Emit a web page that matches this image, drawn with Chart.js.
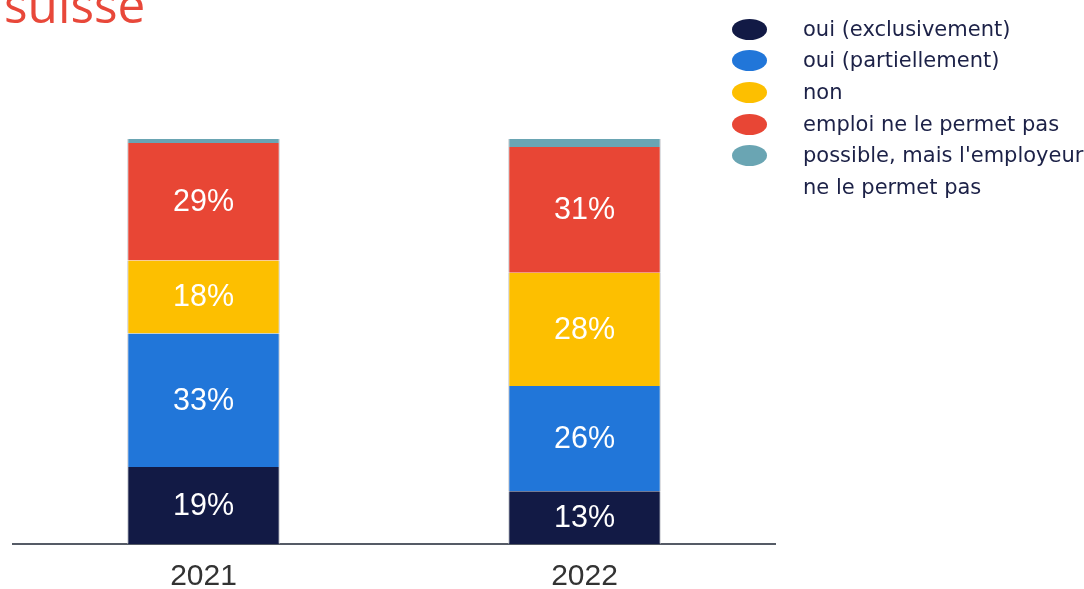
<!DOCTYPE html>
<html lang="fr">
<head>
<meta charset="utf-8">
<title>Télétravail – suisse</title>
<script src="https://cdn.jsdelivr.net/npm/chart.js@4"></script>
<style>
  html, body { margin: 0; padding: 0; background: #ffffff; overflow: hidden; width: 1084px; height: 589px; }
  #wrap { position: absolute; left: 0; top: 0; width: 1084px; height: 610px; }
  #title {
    position: absolute; left: 4px; top: -20px; margin: 0;
    font-family: "Open Sans", sans-serif; font-weight: 400; font-size: 49.5px; line-height: 48px;
    color: #e8483a; white-space: nowrap;
  }
  #legend {
    position: absolute; left: 732px; top: 13.5px; margin: 0; padding: 0; list-style: none;
    font-family: "DejaVu Sans", sans-serif; font-size: 21px; line-height: 31.7px; color: #1c2147;
  }
  #legend li { position: relative; padding-left: 71px; white-space: pre; }
  #legend li span.dot {
    position: absolute; left: 0; top: 5px; width: 35px; height: 21px; border-radius: 50%;
  }
</style>
</head>
<body>
<div id="wrap"><canvas id="chart"></canvas></div>
<h1 id="title">suisse</h1>
<ul id="legend"></ul>
<script>
// Années et parts (%) par réponse
const years = ['2021', '2022'];
const ouiExclusivement = [19, 13];
const ouiPartiellement = [33, 26];
const nonValues = [18, 28];
const emploiNePermetPas = [29, 31];
const employeurNePermetPas = [1, 2];

const seriesLabels = [
  'oui (exclusivement)',
  'oui (partiellement)',
  'non',
  'emploi ne le permet pas',
  "possible, mais l'employeur\nne le permet pas"
];
const seriesColors = ['#121a45', '#2176d9', '#fdbf00', '#e84635', '#6aa5b3'];
const seriesValues = [ouiExclusivement, ouiPartiellement, nonValues, emploiNePermetPas, employeurNePermetPas];

// Légende à droite
const legendEl = document.getElementById('legend');
seriesLabels.forEach((label, i) => {
  const li = document.createElement('li');
  const dot = document.createElement('span');
  dot.className = 'dot';
  dot.style.background = seriesColors[i];
  li.appendChild(dot);
  li.appendChild(document.createTextNode(label));
  legendEl.appendChild(li);
});

// Pourcentages inscrits au centre de chaque segment
const segmentLabels = {
  id: 'segmentLabels',
  afterDatasetsDraw(chart) {
    const ctx = chart.ctx;
    ctx.save();
    ctx.font = '30.5px "Liberation Sans", Arial, sans-serif';
    ctx.fillStyle = '#ffffff';
    ctx.textAlign = 'center';
    ctx.textBaseline = 'middle';
    chart.data.datasets.forEach((ds, di) => {
      const meta = chart.getDatasetMeta(di);
      meta.data.forEach((bar, i) => {
        const v = ds.data[i];
        if (v < 5) return;
        ctx.fillText(v + '%', bar.x, (bar.y + bar.base) / 2 + 1);
      });
    });
    ctx.restore();
  }
};

new Chart(document.getElementById('chart'), {
  type: 'bar',
  data: {
    labels: years,
    datasets: seriesValues.map((vals, i) => ({
      label: seriesLabels[i],
      data: vals,
      backgroundColor: seriesColors[i],
      borderColor: '#b9bcc2',
      borderWidth: { left: 1, right: 1, top: 0, bottom: 0 },
      borderSkipped: false,
      barPercentage: 0.4,
      categoryPercentage: 1
    }))
  },
  options: {
    responsive: true,
    maintainAspectRatio: false,
    animation: false,
    devicePixelRatio: 1,
    layout: { padding: { left: 13, right: 309, top: 139, bottom: 0 } },
    plugins: { legend: { display: false }, tooltip: { enabled: false }, title: { display: false } },
    scales: {
      x: {
        stacked: true,
        grid: { display: false, drawTicks: false },
        border: { display: true, color: '#555b66', width: 2 },
        ticks: {
          color: '#333333',
          padding: 15,
          font: { family: '"Liberation Sans", Arial, sans-serif', size: 30, lineHeight: 1.2 }
        }
      },
      y: {
        stacked: true,
        display: false,
        min: 0,
        max: 100
      }
    }
  },
  plugins: [segmentLabels]
});
</script>
</body>
</html>
